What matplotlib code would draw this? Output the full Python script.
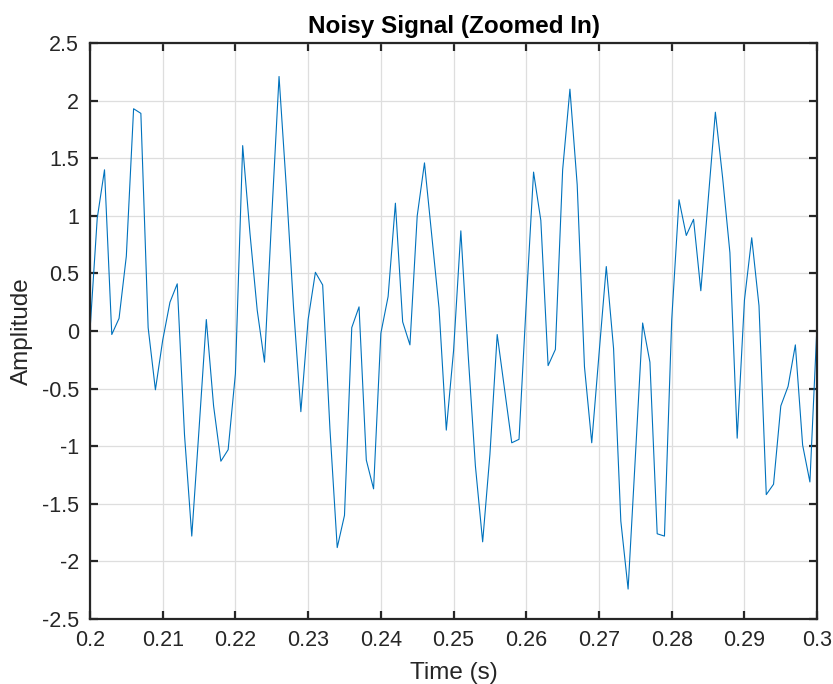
import numpy as np
import matplotlib
matplotlib.use("Agg")
import matplotlib.pyplot as plt

# sample times, 1 kHz from 0.2 s to 0.3 s
t_start = 0.2
t_step = 0.001
amplitude = [
    0.00, 0.98, 1.40, -0.03, 0.11, 0.65, 1.93, 1.89, 0.03, -0.51,
    -0.08, 0.25, 0.41, -0.90, -1.78, -0.85, 0.10, -0.65, -1.13, -1.03,
    -0.37, 1.61, 0.85, 0.18, -0.27, 1.00, 2.21, 1.25, 0.20, -0.70,
    0.10, 0.51, 0.40, -0.85, -1.88, -1.60, 0.03, 0.21, -1.12, -1.37,
    -0.02, 0.30, 1.11, 0.08, -0.12, 1.00, 1.46, 0.83, 0.20, -0.86,
    -0.17, 0.87, -0.20, -1.17, -1.83, -1.07, -0.03, -0.50, -0.97, -0.94,
    0.25, 1.38, 0.96, -0.30, -0.16, 1.40, 2.10, 1.27, -0.31, -0.97,
    -0.20, 0.56, -0.15, -1.65, -2.24, -1.09, 0.07, -0.27, -1.76, -1.78,
    0.10, 1.14, 0.83, 0.97, 0.35, 1.13, 1.90, 1.33, 0.68, -0.93,
    0.27, 0.81, 0.22, -1.42, -1.33, -0.65, -0.48, -0.12, -0.99, -1.31,
    0.08,
]
time = t_start + t_step * np.arange(len(amplitude))

x_ticks = [0.2, 0.21, 0.22, 0.23, 0.24, 0.25, 0.26, 0.27, 0.28, 0.29, 0.3]
x_tick_labels = ["0.2", "0.21", "0.22", "0.23", "0.24", "0.25", "0.26", "0.27", "0.28", "0.29", "0.3"]
y_ticks = [-2.5, -2, -1.5, -1, -0.5, 0, 0.5, 1, 1.5, 2, 2.5]
y_tick_labels = ["-2.5", "-2", "-1.5", "-1", "-0.5", "0", "0.5", "1", "1.5", "2", "2.5"]

plt.rcParams["font.family"] = ["Liberation Sans", "DejaVu Sans"]

axis_color = "#262626"

fig = plt.figure(figsize=(8.33, 6.84), dpi=100)
ax = fig.add_axes([0.108, 0.095, 0.873, 0.842])

ax.plot(time, amplitude, color="#0072BD", linewidth=0.8)

ax.set_xlim(0.2, 0.3)
ax.set_ylim(-2.5, 2.5)
ax.set_xticks(x_ticks)
ax.set_xticklabels(x_tick_labels)
ax.set_yticks(y_ticks)
ax.set_yticklabels(y_tick_labels)

ax.grid(True, color="#dedede", linewidth=0.9)
ax.set_axisbelow(True)
for side in ax.spines.values():
    side.set_color(axis_color)
    side.set_linewidth(1.6)
ax.tick_params(direction="in", length=6, width=1.6, colors=axis_color,
               labelsize=15.5, top=True, right=True, pad=8)

ax.set_xlabel("Time (s)", fontsize=17.5, color=axis_color, labelpad=8)
ax.set_ylabel("Amplitude", fontsize=17.5, color=axis_color, labelpad=6)
ax.set_title("Noisy Signal (Zoomed In)", fontsize=17.5, fontweight="bold", pad=7)

fig.savefig("out.png", dpi=100)
